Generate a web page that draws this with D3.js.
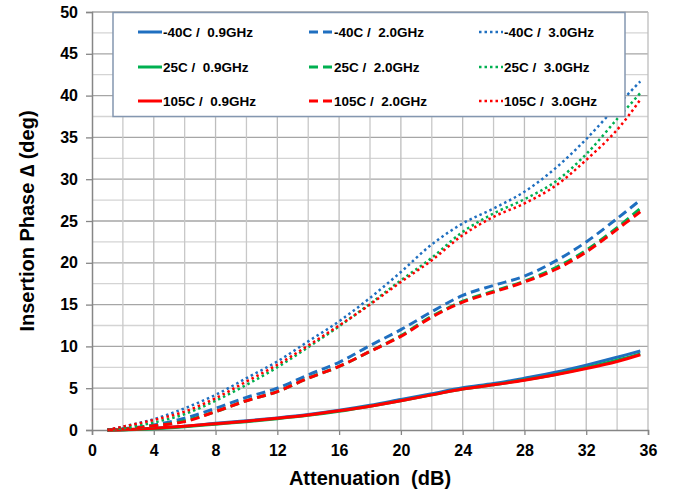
<!DOCTYPE html>
<html>
<head>
<meta charset="utf-8">
<script src="https://cdn.jsdelivr.net/npm/d3@7"></script>
<style>
  body { margin: 0; background: #fff; }
  text { font-family: Arial, "Liberation Sans", sans-serif; font-weight: bold; }
</style>
</head>
<body>
<svg id="chart" width="673" height="491"></svg>
<script>
var atten = [1, 2, 4, 6, 8, 10, 12, 14, 16, 18, 20, 22, 24, 26, 28, 30, 32, 34, 35.5];

var m40_09 = [0, 0.02, 0.2, 0.45, 0.8, 1.1, 1.45, 1.85, 2.35, 2.95, 3.65, 4.35, 5.05, 5.55, 6.2, 6.9, 7.75, 8.7, 9.45];
var p25_09 = [0, 0, 0.15, 0.4, 0.7, 1.0, 1.35, 1.75, 2.25, 2.85, 3.5, 4.2, 4.9, 5.4, 6.0, 6.65, 7.45, 8.35, 9.1];
var p105_09 = [0, 0.02, 0.2, 0.45, 0.75, 1.05, 1.4, 1.8, 2.3, 2.85, 3.5, 4.2, 4.9, 5.4, 5.95, 6.6, 7.35, 8.2, 9.0];

var m40_20 = [0, 0.15, 0.6, 1.4, 2.6, 3.9, 5.0, 6.6, 8.1, 10.1, 12.0, 14.15, 16.1, 17.3, 18.4, 20.2, 22.5, 25.3, 27.5];
var p25_20 = [0, 0.1, 0.5, 1.1, 2.2, 3.5, 4.6, 6.2, 7.6, 9.4, 11.3, 13.6, 15.4, 16.6, 17.8, 19.4, 21.5, 24.2, 26.5];
var p105_20 = [0, 0.1, 0.5, 1.0, 2.2, 3.5, 4.6, 6.2, 7.6, 9.4, 11.2, 13.5, 15.3, 16.5, 17.7, 19.2, 21.3, 24.0, 26.1];

var m40_30 = [0, 0.4, 1.3, 2.6, 4.2, 6.2, 8.2, 10.6, 13.0, 15.8, 18.9, 22.2, 24.7, 26.5, 28.5, 31.3, 34.8, 38.8, 41.7];
var p25_30 = [0, 0.2, 0.9, 1.9, 3.5, 5.4, 7.5, 9.9, 12.4, 15.1, 17.9, 20.6, 23.7, 25.9, 27.6, 29.7, 33.0, 37.2, 40.3];
var p105_30 = [0, 0.4, 1.2, 2.2, 3.8, 5.8, 7.8, 10.1, 12.5, 15.0, 17.7, 20.3, 23.3, 25.5, 27.1, 29.2, 32.3, 35.9, 39.5];

var xTicks = [0, 4, 8, 12, 16, 20, 24, 28, 32, 36];
var yTicks = [0, 5, 10, 15, 20, 25, 30, 35, 40, 45, 50];

// legend order is row by row: 0.9 / 2.0 / 3.0 columns
var series = [
  {name: "-40C /  0.9GHz", values: m40_09, color: "#1f6fc0", style: "solid"},
  {name: "-40C /  2.0GHz", values: m40_20, color: "#1f6fc0", style: "dash"},
  {name: "-40C /  3.0GHz", values: m40_30, color: "#1f6fc0", style: "dot"},
  {name: "25C /  0.9GHz", values: p25_09, color: "#00b050", style: "solid"},
  {name: "25C /  2.0GHz", values: p25_20, color: "#00b050", style: "dash"},
  {name: "25C /  3.0GHz", values: p25_30, color: "#00b050", style: "dot"},
  {name: "105C /  0.9GHz", values: p105_09, color: "#ff0000", style: "solid"},
  {name: "105C /  2.0GHz", values: p105_20, color: "#ff0000", style: "dash"},
  {name: "105C /  3.0GHz", values: p105_30, color: "#ff0000", style: "dot"}
];

var margin = {top: 12, right: 25, bottom: 61, left: 92};
var width = 673 - margin.left - margin.right;
var height = 491 - margin.top - margin.bottom;

var svg = d3.select("#chart");
var g = svg.append("g").attr("transform", "translate(" + margin.left + "," + margin.top + ")");

var x = d3.scaleLinear().domain([0, 36]).range([0, width]);
var y = d3.scaleLinear().domain([0, 50]).range([height, 0]);

var setStroke = function(sel, d) {
  if (d.style == "solid") {
    sel.attr("stroke-width", 3);
  } else if (d.style == "dash") {
    sel.attr("stroke-width", 3).attr("stroke-dasharray", "9,5");
  } else {
    sel.attr("stroke-width", 2.5).attr("stroke-dasharray", "2.5,3");
  }
};

// grid: minor first, then major on top
g.append("g")
  .selectAll("line")
  .data(d3.range(2.5, 50.1, 2.5))
  .enter()
  .append("line")
  .attr("x1", 0).attr("x2", width)
  .attr("y1", d => y(d)).attr("y2", d => y(d))
  .attr("stroke", d => d % 5 == 0 ? "#a6a6a6" : "#d4d4d4")
  .attr("stroke-width", 1.3);

g.append("g")
  .selectAll("line")
  .data(d3.range(2, 36.1, 2))
  .enter()
  .append("line")
  .attr("y1", 0).attr("y2", height)
  .attr("x1", d => x(d)).attr("x2", d => x(d))
  .attr("stroke", d => d % 4 == 0 ? "#bdbdbd" : "#c8c8c8")
  .attr("stroke-width", 1.3);

// axes
var xAxis = d3.axisBottom(x).tickValues(xTicks).tickSize(5).tickPadding(10);
var yAxis = d3.axisLeft(y).tickValues(yTicks).tickSize(6).tickPadding(8);

var gx = g.append("g").attr("transform", "translate(0," + height + ")").call(xAxis);
var gy = g.append("g").call(yAxis);
[gx, gy].forEach(function(a) {
  a.select(".domain").attr("stroke", "#868686").attr("stroke-width", 1.5);
  a.selectAll(".tick line").attr("stroke", "#868686").attr("stroke-width", 1.3);
  a.selectAll(".tick text").attr("fill", "#000").style("font-size", "16px").style("font-weight", "bold");
});

// curves
var line = d3.line()
  .x((d, i) => x(atten[i]))
  .y(d => y(d))
  .curve(d3.curveCatmullRom.alpha(0.5));

var drawOrder = [0, 3, 6, 1, 4, 7, 2, 5, 8];
drawOrder.forEach(function(i) {
  var d = series[i];
  g.append("path")
    .attr("d", line(d.values))
    .attr("fill", "none")
    .attr("stroke", d.color)
    .attr("stroke-linecap", "butt")
    .call(setStroke, d);
});

// legend
var legend = svg.append("g");
legend.append("rect")
  .attr("x", 113).attr("y", 12.5)
  .attr("width", 512).attr("height", 104)
  .attr("fill", "#fff")
  .attr("stroke", "#8497b0")
  .attr("stroke-width", 1.5);

var colX = [138, 309, 479];
var rowY = [32, 67, 101];
series.forEach(function(d, i) {
  var cx = colX[i % 3], cy = rowY[Math.floor(i / 3)];
  legend.append("line")
    .attr("x1", cx).attr("x2", cx + 24)
    .attr("y1", cy).attr("y2", cy)
    .attr("stroke", d.color)
    .call(setStroke, d);
  legend.append("text")
    .attr("x", cx + 25).attr("y", cy + 5)
    .style("font-size", "13.5px")
    .attr("xml:space", "preserve")
    .text(d.name);
});

// axis titles
svg.append("text")
  .attr("x", 370).attr("y", 485)
  .attr("text-anchor", "middle")
  .style("font-size", "20px")
  .attr("xml:space", "preserve")
  .text("Attenuation  (dB)");

svg.append("text")
  .attr("transform", "translate(34," + (margin.top + height / 2) + ") rotate(-90)")
  .attr("text-anchor", "middle")
  .style("font-size", "20px")
  .text("Insertion Phase \u2206 (deg)");
</script>
</body>
</html>
